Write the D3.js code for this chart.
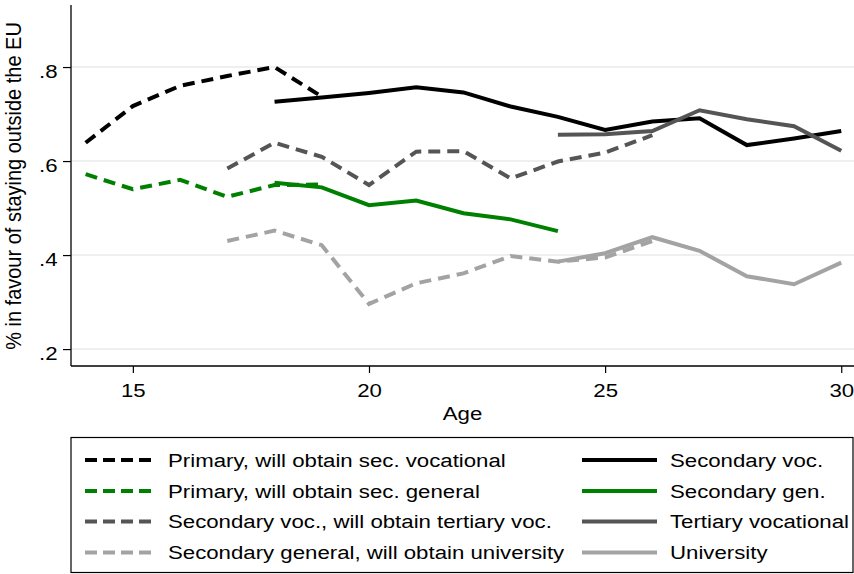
<!DOCTYPE html>
<html>
<head>
<meta charset="utf-8">
<script src="https://cdn.jsdelivr.net/npm/d3@7.9.0/dist/d3.min.js"></script>
<style>
  body { margin: 0; background: #fff; }
  svg { display: block; font-family: "Liberation Sans", Arial, Helvetica, sans-serif; }
</style>
</head>
<body>
<svg id="chart" width="854" height="574"></svg>
<script>
// values
const primVocAges = [14, 15, 16, 17, 18, 19];
const primVocVals = [0.639, 0.717, 0.760, 0.781, 0.800, 0.737];

const primGenAges = [14, 15, 16, 17, 18, 19];
const primGenVals = [0.572, 0.540, 0.560, 0.524, 0.549, 0.550];

const secVocTertAges = [17, 18, 19, 20, 21, 22, 23, 24, 25, 26];
const secVocTertVals = [0.584, 0.639, 0.609, 0.549, 0.620, 0.621, 0.563, 0.599, 0.618, 0.655];

const secGenUniAges = [17, 18, 19, 20, 21, 22, 23, 24, 25, 26];
const secGenUniVals = [0.430, 0.452, 0.421, 0.296, 0.340, 0.361, 0.398, 0.386, 0.395, 0.430];

const secVocAges = [18, 19, 20, 21, 22, 23, 24, 25, 26, 27, 28, 29, 30];
const secVocVals = [0.726, 0.735, 0.745, 0.757, 0.746, 0.716, 0.694, 0.666, 0.684, 0.691, 0.634, 0.648, 0.664];

const secGenAges = [18, 19, 20, 21, 22, 23, 24];
const secGenVals = [0.554, 0.544, 0.506, 0.516, 0.489, 0.476, 0.451];

const tertVocAges = [24, 25, 26, 27, 28, 29, 30];
const tertVocVals = [0.656, 0.657, 0.664, 0.708, 0.689, 0.674, 0.622];

const uniAges = [24, 25, 26, 27, 28, 29, 30];
const uniVals = [0.386, 0.404, 0.438, 0.409, 0.355, 0.338, 0.384];

const xTicks = [15, 20, 25, 30];
const yTicks = [0.2, 0.4, 0.6, 0.8];

// series table (left legend column = dashed, right = solid)
const series = [
  { label: 'Primary, will obtain sec. vocational', ages: primVocAges, vals: primVocVals, color: '#000000', dash: true },
  { label: 'Primary, will obtain sec. general', ages: primGenAges, vals: primGenVals, color: '#008000', dash: true },
  { label: 'Secondary voc., will obtain tertiary voc.', ages: secVocTertAges, vals: secVocTertVals, color: '#555555', dash: true },
  { label: 'Secondary general, will obtain university', ages: secGenUniAges, vals: secGenUniVals, color: '#a3a3a3', dash: true },
  { label: 'Secondary voc.', ages: secVocAges, vals: secVocVals, color: '#000000', dash: false },
  { label: 'Secondary gen.', ages: secGenAges, vals: secGenVals, color: '#008000', dash: false },
  { label: 'Tertiary vocational', ages: tertVocAges, vals: tertVocVals, color: '#555555', dash: false },
  { label: 'University', ages: uniAges, vals: uniVals, color: '#a3a3a3', dash: false }
];

const svg = d3.select('#chart');
const plotL = 71, plotR = 854, plotT = 5, plotB = 366;
const fs = 19;        // base font size
const sx = 1.17;      // text in the original is a bit wide

const x = d3.scaleLinear().domain([13.69, 30.27]).range([plotL, plotR]);
const y = d3.scaleLinear().domain([0.164, 0.932]).range([plotB, plotT]);

// gridlines
svg.append('g')
  .selectAll('line')
  .data(yTicks)
  .join('line')
  .attr('x1', plotL).attr('x2', plotR)
  .attr('y1', d => y(d)).attr('y2', d => y(d))
  .attr('stroke', '#eaeaea')
  .attr('stroke-width', 1.5);

// y axis
const yAxis = svg.append('g')
  .attr('transform', `translate(${plotL},0)`)
  .call(d3.axisLeft(y).tickValues(yTicks).tickSize(8)
    .tickFormat(d => d3.format('.1f')(d).replace(/^0/, '')));
yAxis.select('.domain').attr('d', `M0,${plotT}V${plotB}`).attr('stroke', '#000').attr('stroke-width', 1.3);
yAxis.selectAll('.tick line').attr('stroke', '#000').attr('stroke-width', 1.2);
yAxis.selectAll('text')
  .attr('font-size', fs).attr('fill', '#000')
  .attr('font-family', 'Liberation Sans, Arial, sans-serif')
  .attr('x', -13.5 / sx).attr('dy', '0.54em')
  .attr('transform', `scale(${sx},1)`);

// x axis
const xAxis = svg.append('g')
  .attr('transform', `translate(0,${plotB})`)
  .call(d3.axisBottom(x).tickValues(xTicks).tickSize(7));
xAxis.select('.domain').attr('d', `M${plotL},0H${plotR}`).attr('stroke', '#000').attr('stroke-width', 1.3);
xAxis.selectAll('.tick line').attr('stroke', '#000').attr('stroke-width', 1.2);
xAxis.selectAll('text')
  .attr('font-size', fs).attr('fill', '#000')
  .attr('font-family', 'Liberation Sans, Arial, sans-serif')
  .attr('y', 31).attr('dy', 0)
  .attr('transform', `scale(${sx},1)`);

// axis titles
svg.append('text')
  .attr('transform', `translate(${(plotL + plotR) / 2},420) scale(${sx},1)`)
  .attr('text-anchor', 'middle')
  .attr('font-size', fs)
  .text('Age');

svg.append('text')
  .attr('transform', `translate(21,186) scale(1.08,1) rotate(-90)`)
  .attr('text-anchor', 'middle')
  .attr('font-size', 20)
  .text('% in favour of staying outside the EU');

// lines
const line = d3.line()
  .x(d => x(d[0]))
  .y(d => y(d[1]));

svg.append('g')
  .selectAll('path')
  .data(series)
  .join('path')
  .attr('d', s => line(d3.zip(s.ages, s.vals)))
  .attr('fill', 'none')
  .attr('stroke', s => s.color)
  .attr('stroke-width', 4)
  .attr('stroke-dasharray', s => s.dash ? '12,7' : null);

// legend
const legend = svg.append('g');
legend.append('rect')
  .attr('x', 71).attr('y', 437.5)
  .attr('width', 782).attr('height', 135)
  .attr('fill', 'none')
  .attr('stroke', '#000')
  .attr('stroke-width', 1.2);

const rowY = [460, 491, 521.5, 552.5];
const item = legend.selectAll('g.item')
  .data(series)
  .join('g')
  .attr('class', 'item')
  .attr('transform', (d, i) => `translate(${i < 4 ? 85 : 582},${rowY[i % 4]})`);

item.append('line')
  .attr('x1', 0).attr('x2', s => s.dash ? 66 : 75)
  .attr('y1', 0).attr('y2', 0)
  .attr('stroke', s => s.color)
  .attr('stroke-width', 4)
  .attr('stroke-dasharray', s => s.dash ? '12,6' : null);

item.append('text')
  .attr('transform', (d, i) => `translate(${i < 4 ? 83 : 88},6.8) scale(${sx},1)`)
  .attr('font-size', fs)
  .text(s => s.label);
</script>
</body>
</html>
